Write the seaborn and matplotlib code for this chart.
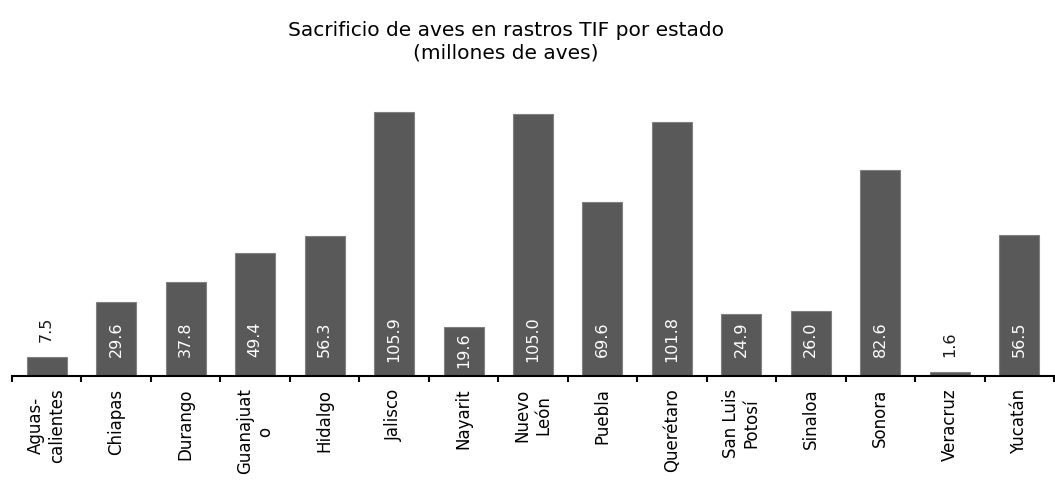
import matplotlib

matplotlib.use("Agg")

import matplotlib.pyplot as plt  # noqa: E402
import pandas as pd  # noqa: E402
import seaborn as sns  # noqa: E402

# datos: sacrificio de aves en rastros TIF (millones de aves)
estados = [
    "Aguas-\ncalientes", "Chiapas", "Durango", "Guanajuat\no", "Hidalgo",
    "Jalisco", "Nayarit", "Nuevo\nLeón", "Puebla", "Querétaro",
    "San Luis\nPotosí", "Sinaloa", "Sonora", "Veracruz", "Yucatán",
]
valores = [7.5, 29.6, 37.8, 49.4, 56.3, 105.9, 19.6, 105.0, 69.6, 101.8,
           24.9, 26.0, 82.6, 1.6, 56.5]

titulo = "Sacrificio de aves en rastros TIF por estado\n(millones de aves)"

df = pd.DataFrame({"estado": estados, "valor": valores})

sns.set_theme(style="white")
plt.rcParams["font.family"] = ["DejaVu Sans"]

fig = plt.figure(figsize=(10.55, 4.86), dpi=100)
ax = fig.add_axes([12 / 1055, 1 - 376 / 486, 1042 / 1055, 276 / 486])

sns.barplot(data=df, x="estado", y="valor", color="#595959", saturation=1,
            width=0.575, edgecolor="#808080", linewidth=0.8, ax=ax)

ax.set_xlim(-0.5, len(estados) - 0.5)
ax.set_ylim(0, 110.7)

# etiquetas de datos
for i, v in enumerate(valores):
    if v < 10:
        ax.annotate(f"{v:.1f}", xy=(i, v), xytext=(0, 11),
                    textcoords="offset points", rotation=90, ha="center",
                    va="bottom", color="#1a1a1a", fontsize=11.5)
    elif v < 22:
        ax.annotate(f"{v:.1f}", xy=(i, v), xytext=(0, -4),
                    textcoords="offset points", rotation=90, ha="center",
                    va="top", color="white", fontsize=11.5)
    else:
        ax.text(i, 14.8, f"{v:.1f}", rotation=90, ha="center", va="center",
                color="white", fontsize=11.5)

# ejes
for s in ["top", "right", "left"]:
    ax.spines[s].set_visible(False)
ax.spines["bottom"].set_color("black")
ax.spines["bottom"].set_linewidth(1.5)
ax.set_yticks([])
ax.set_xlabel("")
ax.set_ylabel("")

ax.set_xticks(range(len(estados)))
ax.set_xticklabels(estados, rotation=90, fontsize=12, color="black",
                   ha="center", va="top", multialignment="center")
ax.set_xticks([i - 0.5 for i in range(len(estados) + 1)], minor=True)
ax.tick_params(axis="x", which="major", length=0, pad=9)
ax.tick_params(axis="x", which="minor", length=4, width=1.5, color="black",
               bottom=True, direction="out")

fig.text(506 / 1055, 1 - 42 / 486, titulo, ha="center", va="center",
         fontsize=14.5, color="black", linespacing=1.2)

fig.savefig("out.png", dpi=100, facecolor="white")
